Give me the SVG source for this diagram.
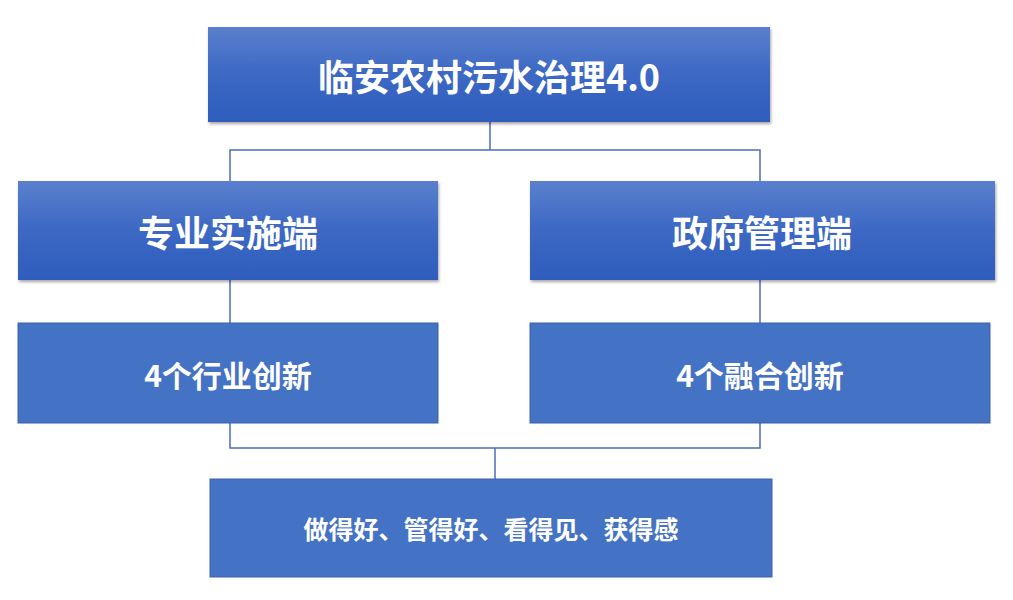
<svg xmlns="http://www.w3.org/2000/svg" width="1013" height="600" viewBox="0 0 1013 600">
<defs>
<linearGradient id="g" x1="0" y1="0" x2="0" y2="1"><stop offset="0" stop-color="#5a7fcd"/><stop offset="0.5" stop-color="#3c68c4"/><stop offset="1" stop-color="#2f5dbd"/></linearGradient>
<filter id="sh" x="-5%" y="-5%" width="110%" height="120%"><feDropShadow dx="1" dy="2" stdDeviation="1.5" flood-color="#000" flood-opacity="0.35"/></filter>
<style>
.gb{fill:url(#g);filter:url(#sh)}
.fb{fill:#4472c4;stroke:#3a63ad;stroke-width:1}
text{fill:#fff;font-family:"Noto Sans CJK SC","Noto Sans",sans-serif;font-weight:bold;text-anchor:middle;dominant-baseline:central}
.c{fill:none;stroke:#4a6fb5;stroke-width:1.5}
</style>
</defs>
<rect width="1013" height="600" fill="#fff"/>
<g id="connectors">
<path class="c" d="M490 122V150M230 181V150H760V181M230 280V323M760 280V323M230 423V448H760V423M495 448V479"/>
</g>
<g id="top"><rect class="gb" x="208" y="27" width="562" height="95"/><text x="489" y="75" font-size="36">临安农村污水治理4.0</text></g>
<g id="left"><rect class="gb" x="18" y="181" width="420" height="99"/><text x="228" y="231" font-size="36">专业实施端</text></g>
<g id="right"><rect class="gb" x="530" y="181" width="465" height="99"/><text x="762" y="231" font-size="36">政府管理端</text></g>
<g id="left2"><rect class="fb" x="18" y="323" width="420" height="100"/><text x="228" y="374" font-size="30">4个行业创新</text></g>
<g id="right2"><rect class="fb" x="530" y="323" width="460" height="100"/><text x="760" y="374" font-size="30">4个融合创新</text></g>
<g id="bottom"><rect class="fb" x="210" y="479" width="562" height="98"/><text x="491" y="528" font-size="25">做得好、管得好、看得见、获得感</text></g>
</svg>
